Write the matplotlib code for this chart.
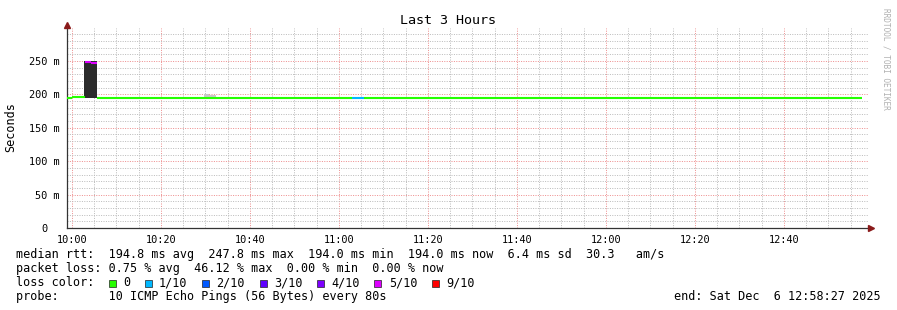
import matplotlib
matplotlib.use("Agg")
import matplotlib.pyplot as plt
from matplotlib.patches import Rectangle
from matplotlib.transforms import ScaledTranslation

plt.rcParams["font.family"] = "DejaVu Sans Mono"

# minutes after 10:00
median_start = [-1.2, 0.0, 2.9, 4.3, 5.6, 62.9, 65.6]
median_end = [0.0, 2.9, 4.3, 5.6, 62.9, 65.6, 177.5]
median_ms = [194.0, 196.0, 248.8, 246.8, 194.0, 194.0, 194.0]
median_loss = ["0", "0", "5/10", "5/10", "0", "1/10", "0"]

smoke_start = [2.7, 29.7, 30.8]
smoke_end = [5.55, 30.8, 32.4]
smoke_low = [194.5, 194.5, 194.5]
smoke_high = [250.0, 200.5, 199.0]
smoke_shade = ["#2b2b2b", "#c8c8c8", "#c8c8c8"]

loss_labels = ["0", "1/10", "2/10", "3/10", "4/10", "5/10", "9/10"]
loss_colors = ["#26ff00", "#00b8ff", "#0059ff", "#5e00ff", "#7e00ff", "#dd00ff", "#ff0000"]
loss_map = dict(zip(loss_labels, loss_colors))

xtick_min = list(range(0, 161, 20))
xtick_labels = ["10:00", "10:20", "10:40", "11:00", "11:20", "11:40", "12:00", "12:20", "12:40"]
ytick_ms = [0, 50, 100, 150, 200, 250]
ytick_labels = ["0", "50 m", "100 m", "150 m", "200 m", "250 m"]

rtt_line = "median rtt:  194.8 ms avg  247.8 ms max  194.0 ms min  194.0 ms now  6.4 ms sd  30.3   am/s"
loss_line = "packet loss: 0.75 % avg  46.12 % max  0.00 % min  0.00 % now"
probe_line = "probe:       10 ICMP Echo Pings (56 Bytes) every 80s"
end_line = "end: Sat Dec  6 12:58:27 2025"

W, H = 897, 310
fs = 8.5
fs_axis = 7.4
fig = plt.figure(figsize=(W / 100, H / 100), dpi=100)
fig.patch.set_facecolor("white")
ax = fig.add_axes([67 / W, (H - 228) / H, (868 - 67) / W, (228 - 27.6) / H])

# smoke
for s, e, lo, hi, c in zip(smoke_start, smoke_end, smoke_low, smoke_high, smoke_shade):
    ax.bar(s, hi - lo, width=e - s, bottom=lo, align="edge", color=c, linewidth=0, zorder=3)

# median line coloured by loss
ax.hlines(median_ms, median_start, median_end,
          colors=[loss_map[l] for l in median_loss], linewidth=1.5, zorder=4)

ax.set_xlim(-1.12, 178.88)
ax.set_ylim(0, 300)
ax.set_xticks(xtick_min)
ax.set_xticklabels(xtick_labels)
ax.set_xticks([m for m in range(0, 180, 5) if m % 20], minor=True)
ax.set_yticks(ytick_ms)
ax.set_yticklabels(ytick_labels)
ax.set_yticks([v for v in range(10, 300, 10) if v % 50], minor=True)

ax.set_axisbelow(True)
ax.grid(which="minor", color="#bdbdbd", linestyle=(0, (1, 1.4)), linewidth=0.72)
ax.grid(which="major", color="#ee9090", linestyle=(0, (1, 1.4)), linewidth=0.72)

for sp in ["top", "right"]:
    ax.spines[sp].set_visible(False)
for sp in ["left", "bottom"]:
    ax.spines[sp].set_color("#333333")
    ax.spines[sp].set_linewidth(0.9)

ax.tick_params(axis="x", which="major", length=0, pad=4.8, labelsize=fs_axis)
ax.tick_params(axis="y", which="major", length=0, pad=5.5, labelsize=fs_axis)
ax.tick_params(which="minor", length=0)

# "0" label sits further left in the reference
zero = ax.get_yticklabels()[0]
zero.set_transform(zero.get_transform() + ScaledTranslation(-11.5 / 100, 0, fig.dpi_scale_trans))

# axis arrows
ax.plot([0], [1], marker="^", markersize=5, color="#8a1a1a", clip_on=False,
        transform=ax.transAxes + ScaledTranslation(0, 2.5 / 100, fig.dpi_scale_trans), zorder=6)
ax.plot([1], [0], marker=">", markersize=5, color="#8a1a1a", clip_on=False,
        transform=ax.transAxes + ScaledTranslation(3 / 100, 0, fig.dpi_scale_trans), zorder=6)

def px(x, y):
    return x / W, 1 - y / H

fig.text(*px(448, 20), "Last 3 Hours", ha="center", va="center", fontsize=9.6)
fig.text(*px(11, 127), "Seconds", ha="center", va="center", rotation=90, fontsize=fs)
fig.text(*px(886, 59), "RRDTOOL / TOBI OETIKER", ha="center", va="center",
         rotation=-90, fontsize=5.6, color="#b0b0b0")

fig.text(*px(16, 254.5), rtt_line, ha="left", va="center", fontsize=fs)
fig.text(*px(16, 268.5), loss_line, ha="left", va="center", fontsize=fs)
fig.text(*px(16, 282.5), "loss color:", ha="left", va="center", fontsize=fs)
fig.text(*px(16, 296.5), probe_line, ha="left", va="center", fontsize=fs)
fig.text(*px(881, 296.5), end_line, ha="right", va="center", fontsize=fs)

cw = 7.1
x = 108.7
for lab, col in zip(loss_labels, loss_colors):
    fig.add_artist(Rectangle(px(x, 286.5), 7 / W, 7 / H, transform=fig.transFigure,
                             facecolor=col, edgecolor="#222222", linewidth=0.5))
    fig.text(*px(x + 14.3, 282.5), lab, ha="left", va="center", fontsize=fs)
    x += 14.3 + len(lab) * cw + 14.7

fig.savefig("out.png", dpi=100)
